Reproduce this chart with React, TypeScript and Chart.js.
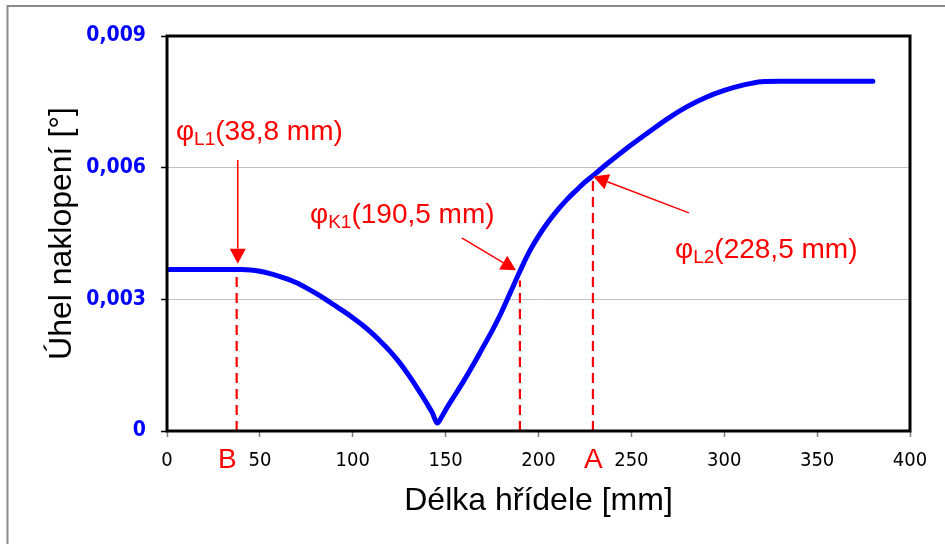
import React, { useEffect, useRef } from "react";
import { Chart, registerables } from "chart.js";

Chart.register(...registerables);

// Shaft length [mm]
const shaftX = [
  0, 10, 20, 30, 40, 45, 50, 55, 60, 65, 70, 75, 80, 85, 90, 95, 100, 105, 110, 115, 120, 125, 130, 135, 140, 143,
  145.5, 148, 150, 155, 160, 165, 170, 175, 180, 185, 190, 195, 200, 205, 210, 215, 220, 225, 230, 235, 240, 250,
  260, 270, 280, 290, 300, 310, 320, 330, 380,
];
// Tilt angle [°]
const tiltY = [
  0.00368, 0.00368, 0.00368, 0.00368, 0.00368, 0.00367, 0.00364, 0.00359, 0.00353, 0.00346, 0.00337, 0.00326,
  0.00314, 0.00301, 0.00287, 0.00273, 0.00258, 0.00242, 0.00224, 0.00204, 0.00182, 0.00157, 0.00128, 0.00096,
  0.00062, 0.0004, 0.00018, 0.00033, 0.00048, 0.00082, 0.00116, 0.00152, 0.0019, 0.00228, 0.0027, 0.00317, 0.00364,
  0.00408, 0.00444, 0.00475, 0.00502, 0.00526, 0.00547, 0.00567, 0.00584, 0.00602, 0.00619, 0.00652, 0.00683,
  0.00713, 0.00739, 0.0076, 0.00776, 0.00788, 0.00796, 0.00797, 0.00797,
];

const xTickValues = [0, 50, 100, 150, 200, 250, 300, 350, 400];
const xTickLabels = ["0", "50", "100", "150", "200", "250", "300", "350", "400"];
const yTickValues = [0, 0.003, 0.006, 0.009];
const yTickLabels = ["0", "0,003", "0,006", "0,009"];
const yGridValues = [0.003, 0.006];

// Dashed marker lines
const markerX = [37.5, 190, 229.3];
const markerTopY = [0.00368, 0.00343, 0.00578];

// Letters under the axis
const letterText = ["B", "A"];
const letterX = [32.5, 229.5];

// Callouts
const calloutSub = ["L1", "K1", "L2"];
const calloutText = ["(38,8 mm)", "(190,5 mm)", "(228,5 mm)"];
const calloutX = [4.8, 77, 273.5];
const calloutY = [0.00664, 0.00473, 0.00395];
const arrowFromX = [38.1, 158.7, 281];
const arrowFromY = [0.006175, 0.0044, 0.00497];
const arrowToX = [38.1, 187.9, 229.5];
const arrowToY = [0.00381, 0.00366, 0.0058];

const RED = "#FF0000";
const BLUE = "#0000FF";
const SANS = '"Liberation Sans", Arial, sans-serif';
const TICKFONT = '"DejaVu Sans Condensed", "DejaVu Sans", sans-serif';

const overlay = {
  id: "overlay",
  afterDatasetsDraw(chart: any) {
    const { ctx, scales, chartArea } = chart;
    const xs = scales.x;
    const ys = scales.y;
    ctx.save();
    // arrows
    ctx.strokeStyle = RED;
    ctx.fillStyle = RED;
    ctx.lineWidth = 1.5;
    for (let i = 0; i < arrowFromX.length; i++) {
      const x1 = xs.getPixelForValue(arrowFromX[i]);
      const y1 = ys.getPixelForValue(arrowFromY[i]);
      const x2 = xs.getPixelForValue(arrowToX[i]);
      const y2 = ys.getPixelForValue(arrowToY[i]);
      const ang = Math.atan2(y2 - y1, x2 - x1);
      const len = 15;
      const hw = 8;
      const bx = x2 - len * Math.cos(ang);
      const by = y2 - len * Math.sin(ang);
      ctx.beginPath();
      ctx.moveTo(x1, y1);
      ctx.lineTo(bx, by);
      ctx.stroke();
      ctx.beginPath();
      ctx.moveTo(x2, y2);
      ctx.lineTo(bx + hw * Math.sin(ang), by - hw * Math.cos(ang));
      ctx.lineTo(bx - hw * Math.sin(ang), by + hw * Math.cos(ang));
      ctx.closePath();
      ctx.fill();
    }
    // callout texts
    ctx.textBaseline = "alphabetic";
    ctx.textAlign = "left";
    for (let i = 0; i < calloutText.length; i++) {
      let x = xs.getPixelForValue(calloutX[i]);
      const y = ys.getPixelForValue(calloutY[i]);
      ctx.font = "28px " + SANS;
      ctx.fillText("φ", x, y);
      x += ctx.measureText("φ").width;
      ctx.font = "19px " + SANS;
      ctx.fillText(calloutSub[i], x, y + 5);
      x += ctx.measureText(calloutSub[i]).width;
      ctx.font = "28px " + SANS;
      ctx.fillText(calloutText[i], x, y);
    }
    // letters below axis
    ctx.textAlign = "center";
    ctx.font = "28px " + SANS;
    for (let i = 0; i < letterText.length; i++) {
      ctx.fillText(letterText[i], xs.getPixelForValue(letterX[i]), chartArea.bottom + 37);
    }
    ctx.restore();
  },
  afterDraw(chart: any) {
    const { ctx, chartArea } = chart;
    ctx.save();
    ctx.strokeStyle = "#000000";
    ctx.lineWidth = 3;
    ctx.strokeRect(chartArea.left, chartArea.top, chartArea.right - chartArea.left, chartArea.bottom - chartArea.top);
    ctx.strokeStyle = "#8a8a8a";
    ctx.lineWidth = 2;
    ctx.beginPath();
    ctx.moveTo(7.5, 600);
    ctx.lineTo(7.5, 6);
    ctx.lineTo(1000, 6);
    ctx.stroke();
    ctx.restore();
  },
};

export default function App() {
  const ref = useRef<HTMLCanvasElement | null>(null);
  useEffect(() => {
    if (!ref.current) return;
    const datasets: any[] = [
      {
        data: shaftX.map((x, i) => ({ x, y: tiltY[i] })),
        borderColor: BLUE,
        borderWidth: 5,
        pointRadius: 0,
        cubicInterpolationMode: "monotone",
        borderCapStyle: "round",
        borderJoinStyle: "round",
        fill: false,
      },
    ];
    markerX.forEach((mx, i) => {
      datasets.push({
        data: [
          { x: mx, y: 0 },
          { x: mx, y: markerTopY[i] },
        ],
        borderColor: RED,
        borderWidth: 2.2,
        borderDash: [10, 6],
        pointRadius: 0,
        fill: false,
      });
    });
    const chart = new Chart(ref.current, {
      type: "line",
      data: { datasets },
      options: {
        animation: false,
        responsive: false,
        maintainAspectRatio: false,
        layout: { padding: { left: 0, top: 36, right: 35, bottom: 0 } },
        plugins: { legend: { display: false }, tooltip: { enabled: false } },
        scales: {
          x: {
            type: "linear",
            min: 0,
            max: 400,
            afterBuildTicks: (s: any) => {
              s.ticks = xTickValues.map((v) => ({ value: v }));
            },
            afterFit: (s: any) => {
              s.height = 113;
            },
            ticks: {
              callback: (_v: any, i: number) => xTickLabels[i],
              color: "#000000",
              font: { family: TICKFONT, size: 20 },
              padding: 12,
              maxRotation: 0,
              autoSkip: false,
            },
            grid: { drawOnChartArea: false, tickLength: 6, tickColor: "#808080", tickWidth: 1.5 },
            border: { display: false },
            title: {
              display: true,
              text: "Délka hřídele [mm]",
              color: "#000000",
              font: { family: SANS, size: 32 },
              padding: { top: 0, bottom: 24 },
            },
          },
          y: {
            type: "linear",
            min: 0,
            max: 0.009,
            afterBuildTicks: (s: any) => {
              s.ticks = yTickValues.map((v) => ({ value: v }));
            },
            afterFit: (s: any) => {
              s.width = 167;
            },
            ticks: {
              callback: (_v: any, i: number) => yTickLabels[i],
              color: BLUE,
              font: { family: TICKFONT, size: 21, weight: "bold" },
              padding: 15,
              autoSkip: false,
            },
            grid: {
              color: (c: any) =>
                c.tick && yGridValues.some((g) => Math.abs(g - c.tick.value) < 1e-9) ? "#c0c0c0" : "rgba(0,0,0,0)",
              lineWidth: 1,
              tickLength: 6,
              tickColor: "#000000",
              tickWidth: 1.5,
            },
            border: { display: false },
            title: {
              display: true,
              text: "Úhel naklopení [°]",
              color: "#000000",
              font: { family: SANS, size: 32 },
              padding: { top: 43, bottom: 0 },
            },
          },
        },
      },
      plugins: [overlay],
    });
    return () => chart.destroy();
  }, []);
  return (
    <div style={{ position: "absolute", left: 0, top: 0, width: 945, height: 544, background: "#ffffff" }}>
      <canvas ref={ref} width={945} height={544} style={{ width: 945, height: 544, display: "block" }} />
    </div>
  );
}
